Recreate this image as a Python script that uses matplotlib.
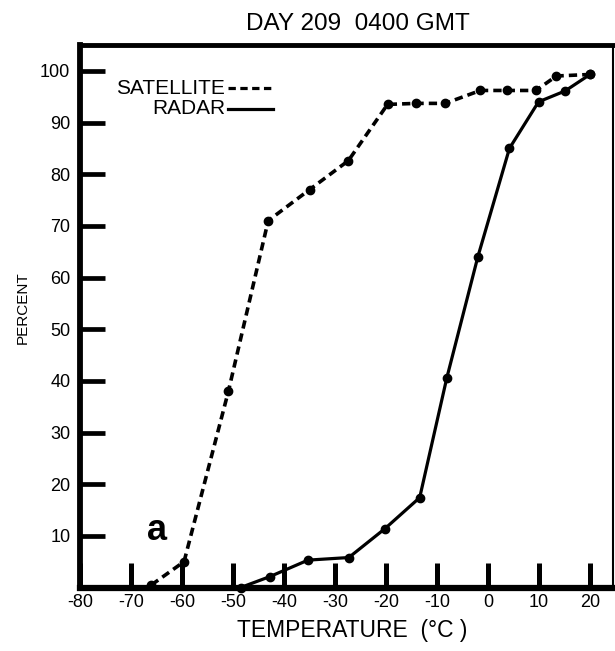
import matplotlib
matplotlib.use("Agg")
import matplotlib.pyplot as plt
from matplotlib.lines import Line2D

# ---- data ----
sat_temp = [-66, -59.6, -50.9, -43.1, -35.0, -27.4, -19.7, -14.1, -8.4, -1.5, 3.8, 9.4, 13.4, 20.0]
sat_pct = [0.5, 5.0, 38.0, 71.0, 77.0, 82.6, 93.5, 93.7, 93.7, 96.2, 96.2, 96.2, 99.0, 99.3]

radar_temp = [-48.5, -42.8, -35.3, -27.3, -20.2, -13.4, -8.1, -2.0, 4.2, 9.9, 15.1, 20.0]
radar_pct = [0.0, 2.1, 5.3, 5.8, 11.4, 17.4, 40.5, 64.0, 85.0, 94.0, 96.1, 99.3]

x_ticks = [-80, -70, -60, -50, -40, -30, -20, -10, 0, 10, 20]
y_ticks = [10, 20, 30, 40, 50, 60, 70, 80, 90, 100]

title_text = "DAY 209  0400 GMT"
xlabel_text = "TEMPERATURE  (°C )"
ylabel_text = "PERCENT"
legend_names = ["SATELLITE", "RADAR"]
panel_letter = "a"

FONT = ["Liberation Sans", "DejaVu Sans"]

fig = plt.figure(figsize=(6.15, 6.51), dpi=100)
ax = fig.add_axes([80 / 615, 1 - 587.5 / 651, (613 - 80) / 615, (587.5 - 45) / 651])

ax.plot(sat_temp, sat_pct, color="black", lw=2.6, dashes=(2.3, 1.4),
        marker="o", ms=6, mfc="black", mec="black",
        dash_capstyle="butt", clip_on=False, zorder=3)
ax.plot(radar_temp, radar_pct, color="black", lw=2.3, marker="o", ms=6,
        mfc="black", mec="black", clip_on=False, zorder=3)

ax.set_xlim(-80, 24.5)
ax.set_ylim(0, 105)
ax.set_xticks(x_ticks)
ax.set_yticks(y_ticks)
ax.set_xticklabels([str(v) for v in x_ticks], family=FONT, fontsize=13)
ax.set_yticklabels([str(v) for v in y_ticks], family=FONT, fontsize=13)
ax.tick_params(axis="x", direction="in", length=18, width=3.6, pad=5, color="black")
ax.tick_params(axis="y", direction="in", length=18, width=3.4, pad=7, color="black")

ax.spines["left"].set_linewidth(4.2)
ax.spines["bottom"].set_linewidth(4.5)
ax.spines["top"].set_linewidth(3.5)
ax.spines["right"].set_linewidth(1.5)

fig.text(358 / 615, 1 - 24 / 651, title_text, family=FONT, fontsize=17.5,
         ha="center", va="center")
fig.text(352 / 615, 1 - 630 / 651, xlabel_text, family=FONT, fontsize=16.5,
         ha="center", va="center")
fig.text(22.5 / 615, 1 - 307.5 / 651, ylabel_text, family=FONT, fontsize=11,
         ha="center", va="center", rotation=90)

# legend drawn by hand: text with a line sample after it
ly = [1 - 88 / 651, 1 - 109 / 651]
styles = [dict(dashes=(2.3, 1.4)), dict(linestyle="-")]
for name, yy, st in zip(legend_names, ly, styles):
    fig.text(225 / 615, yy, name, family=FONT, fontsize=15, ha="right", va="center")
    fig.add_artist(Line2D([228 / 615, 273 / 615], [yy, yy], transform=fig.transFigure,
                          color="black", lw=2.3, **st))

fig.text(157.5 / 615, 1 - 531 / 651, panel_letter, family=FONT, fontsize=26,
         fontweight="bold", ha="center", va="center")

fig.savefig("out.png", dpi=100)
